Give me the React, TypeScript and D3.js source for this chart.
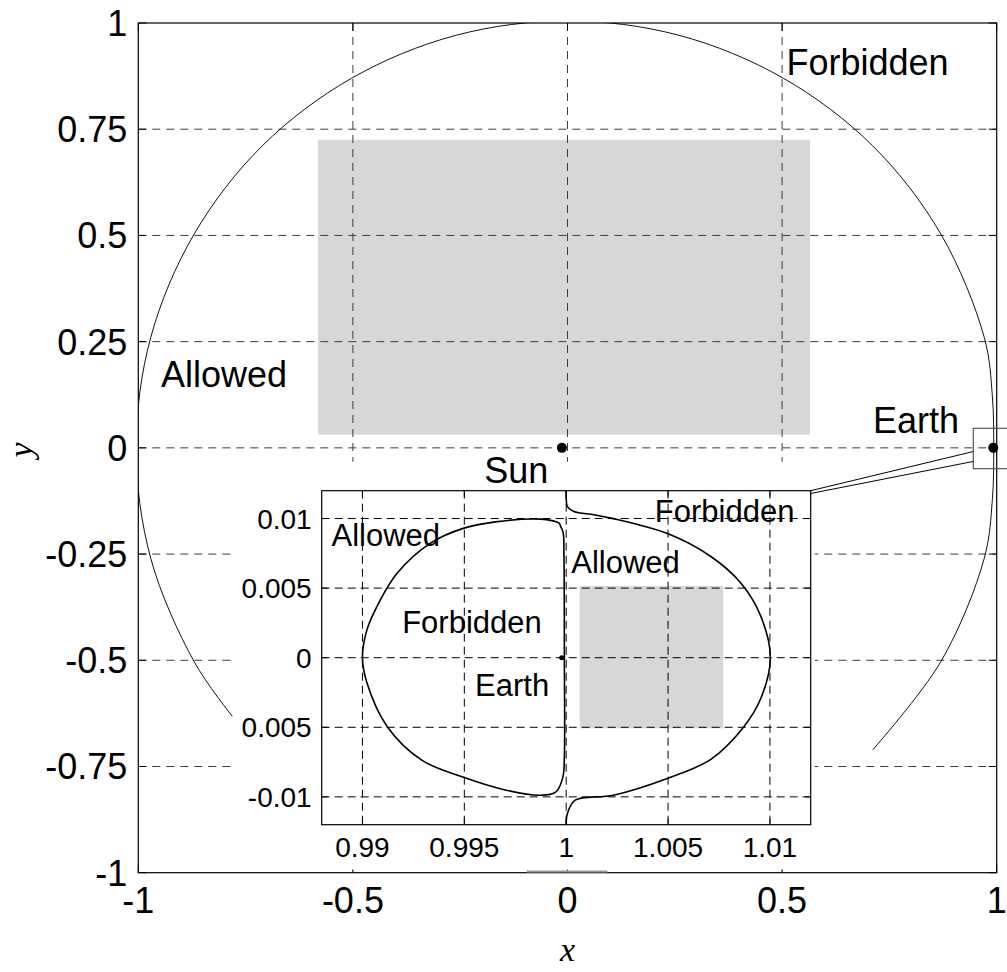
import React, { useRef, useEffect } from "react";
import * as d3 from "d3";

// main plot: outer zero-velocity curve
const outerX = [0.711, 0.87, 0.971, 0.99, 0.993, 0.99, 0.971, 0.87, 0.711, 0.503, 0.26, 0, -0.26, -0.503, -0.711, -0.87, -0.971, -1.005, -0.971, -0.87, -0.781];
const outerY = [-0.711, -0.503, -0.26, -0.12, 0, 0.12, 0.26, 0.503, 0.711, 0.87, 0.971, 1.005, 0.971, 0.87, 0.711, 0.503, 0.26, 0, -0.26, -0.503, -0.632];

// inset: closed region around Earth
const loopX = [0.99973, 0.99965, 0.9993, 0.99875, 0.99662, 0.99498, 0.99334, 0.9917, 0.99088, 0.99022, 0.99, 0.99022, 0.99122, 0.99291, 0.99489, 0.997, 0.99875, 0.9995, 0.99984, 0.99991, 0.99991, 0.99989, 0.99985, 0.99973];
const loopY = [0.00942, 0.00967, 0.00985, 0.00996, 0.00978, 0.00931, 0.00823, 0.00607, 0.00415, 0.002, 0, -0.0018, -0.00496, -0.00736, -0.00856, -0.0095, -0.00988, -0.00964, -0.00856, -0.00712, 0, 0.0073, 0.009, 0.00942];

// inset: outer boundary on the right
const rightX = [1.0, 1.00001, 1.00006, 1.00038, 1.00137, 1.00219, 1.005, 1.0071, 1.00858, 1.00956, 1.01002, 1.00956, 1.00872, 1.0071, 1.00496, 1.00232, 1.00044, 1.00006, 1.0];
const rightY = [0.012, 0.01122, 0.01086, 0.0105, 0.01027, 0.01003, 0.0089, 0.00727, 0.00535, 0.00295, 0, -0.0029, -0.00496, -0.0073, -0.00868, -0.00988, -0.01024, -0.0112, -0.012];

const mainXTicks = [-1, -0.5, 0, 0.5, 1];
const mainXLabels = ["-1", "-0.5", "0", "0.5", "1"];
const mainYTicks = [-1, -0.75, -0.5, -0.25, 0, 0.25, 0.5, 0.75, 1];
const mainYLabels = ["-1", "-0.75", "-0.5", "-0.25", "0", "0.25", "0.5", "0.75", "1"];
const insetXTicks = [0.99, 0.995, 1, 1.005, 1.01];
const insetXLabels = ["0.99", "0.995", "1", "1.005", "1.01"];
const insetYTicks = [-0.01, -0.005, 0, 0.005, 0.01];
const insetYLabels = ["-0.01", "0.005", "0", "0.005", "0.01"];

const mainShade = { x0: -0.581, x1: 0.565, y0: 0.031, y1: 0.725 };
const insetShade = { x0: 1.00066, x1: 1.00771, y0: -0.00508, y1: 0.00516 };

const mainTexts = [
  { t: "Forbidden", x: 0.51, y: 0.878 },
  { t: "Allowed", x: -0.947, y: 0.144 },
  { t: "Earth", x: 0.712, y: 0.0345 },
  { t: "Sun", x: -0.194, y: -0.082 },
];
const insetTexts = [
  { t: "Allowed", x: 0.98848, y: 0.00805 },
  { t: "Allowed", x: 1.00025, y: 0.00606 },
  { t: "Forbidden", x: 1.00435, y: 0.00977 },
  { t: "Forbidden", x: 0.99195, y: 0.0018 },
  { t: "Earth", x: 0.99553, y: -0.00275 },
];

const App: React.FC = () => {
  const svgRef = useRef<SVGSVGElement>(null);

  useEffect(() => {
    if (!svgRef.current) return;
    const svg = d3.select(svgRef.current);
    svg.selectAll("*").remove();

    const W = 1007;
    const H = 972;
    const font = "'Liberation Sans', Arial, Helvetica, sans-serif";
    const serif = "'Liberation Serif', 'Times New Roman', serif";
    svg.attr("width", W).attr("height", H);
    svg.append("rect").attr("width", W).attr("height", H).attr("fill", "#fff");

    const x = d3.scaleLinear().domain([-1, 1]).range([138.3, 996.7]);
    const y = d3.scaleLinear().domain([-1, 1]).range([872.7, 23]);

    svg.append("clipPath").attr("id", "mainClip")
      .append("rect")
      .attr("x", x(-1)).attr("y", y(1))
      .attr("width", x(1) - x(-1)).attr("height", y(-1) - y(1));

    const main = svg.append("g");

    main.append("rect")
      .attr("x", x(mainShade.x0)).attr("y", y(mainShade.y1))
      .attr("width", x(mainShade.x1) - x(mainShade.x0))
      .attr("height", y(mainShade.y0) - y(mainShade.y1))
      .attr("fill", "#d7d7d7");

    // grid
    mainXTicks.slice(1, -1).forEach((v) => {
      main.append("line")
        .attr("x1", x(v)).attr("x2", x(v)).attr("y1", y(1)).attr("y2", y(-1))
        .attr("stroke", "#3c3c3c").attr("stroke-dasharray", "8,6");
    });
    mainYTicks.slice(1, -1).forEach((v) => {
      main.append("line")
        .attr("x1", x(-1)).attr("x2", x(1)).attr("y1", y(v)).attr("y2", y(v))
        .attr("stroke", "#3c3c3c").attr("stroke-dasharray", "8,6");
    });

    const outer = outerX.map((v, i) => [v, outerY[i]] as [number, number]);
    const mainLine = d3.line<[number, number]>()
      .x((d) => x(d[0])).y((d) => y(d[1]))
      .curve(d3.curveCatmullRom);
    main.append("path")
      .datum(outer)
      .attr("clip-path", "url(#mainClip)")
      .attr("fill", "none").attr("stroke", "#111").attr("stroke-width", 1)
      .attr("d", mainLine);

    // axes box + ticks
    main.append("rect")
      .attr("x", x(-1)).attr("y", y(1))
      .attr("width", x(1) - x(-1)).attr("height", y(-1) - y(1))
      .attr("fill", "none").attr("stroke", "#000").attr("stroke-width", 1.2);
    const tl = 8;
    mainXTicks.forEach((v) => {
      main.append("line").attr("x1", x(v)).attr("x2", x(v)).attr("y1", y(-1)).attr("y2", y(-1) - tl).attr("stroke", "#000");
      main.append("line").attr("x1", x(v)).attr("x2", x(v)).attr("y1", y(1)).attr("y2", y(1) + tl).attr("stroke", "#000");
    });
    mainYTicks.forEach((v) => {
      main.append("line").attr("x1", x(-1)).attr("x2", x(-1) + tl).attr("y1", y(v)).attr("y2", y(v)).attr("stroke", "#000");
      main.append("line").attr("x1", x(1)).attr("x2", x(1) - tl).attr("y1", y(v)).attr("y2", y(v)).attr("stroke", "#000");
    });

    main.selectAll(".xt").data(mainXTicks).enter().append("text")
      .attr("x", (d) => x(d)).attr("y", y(-1) + 40.6)
      .attr("text-anchor", "middle")
      .attr("font-family", font).attr("font-size", 36)
      .text((d, i) => mainXLabels[i]);
    main.selectAll(".yt").data(mainYTicks).enter().append("text")
      .attr("x", x(-1) - 11).attr("y", (d) => y(d)).attr("dy", "0.36em")
      .attr("text-anchor", "end")
      .attr("font-family", font).attr("font-size", 36)
      .text((d, i) => mainYLabels[i]);

    // axis titles
    svg.append("text")
      .attr("x", x(0)).attr("y", 961)
      .attr("text-anchor", "middle")
      .attr("font-family", serif)
      .attr("font-style", "italic").attr("font-size", 34)
      .text("x");
    svg.append("text")
      .attr("transform", `translate(32, ${y(0) + 2}) rotate(-90)`)
      .attr("text-anchor", "middle")
      .attr("font-family", serif)
      .attr("font-style", "italic").attr("font-size", 34)
      .text("y");

    // bodies
    main.append("circle").attr("cx", x(-0.013)).attr("cy", y(0)).attr("r", 5).attr("fill", "#000");
    main.append("circle").attr("cx", x(0.992)).attr("cy", y(0)).attr("r", 5).attr("fill", "#000");

    // zoom box around Earth
    svg.append("rect")
      .attr("x", x(0.9455)).attr("y", y(0.046))
      .attr("width", x(1.06) - x(0.9455)).attr("height", y(-0.049) - y(0.046))
      .attr("fill", "none").attr("stroke", "#555").attr("stroke-width", 1.2);

    // ---- inset ----
    const xi = d3.scaleLinear().domain([0.988, 1.012]).range([321.7, 810.7]);
    const yi = d3.scaleLinear().domain([-0.012, 0.012]).range([824.7, 490.7]);

    const inset = svg.append("g");
    inset.append("rect")
      .attr("x", xi(0.988) - 86).attr("y", yi(0.012) - 29)
      .attr("width", xi(1.012) - xi(0.988) + 90)
      .attr("height", yi(-0.012) - yi(0.012) + 74)
      .attr("fill", "#fff");

    inset.append("rect")
      .attr("x", xi(insetShade.x0)).attr("y", yi(insetShade.y1))
      .attr("width", xi(insetShade.x1) - xi(insetShade.x0))
      .attr("height", yi(insetShade.y0) - yi(insetShade.y1))
      .attr("fill", "#d7d7d7");

    insetXTicks.forEach((v) => {
      inset.append("line")
        .attr("x1", xi(v)).attr("x2", xi(v)).attr("y1", yi(0.012)).attr("y2", yi(-0.012))
        .attr("stroke", "#000").attr("stroke-dasharray", "8,5");
    });
    insetYTicks.forEach((v) => {
      inset.append("line")
        .attr("x1", xi(0.988)).attr("x2", xi(1.012)).attr("y1", yi(v)).attr("y2", yi(v))
        .attr("stroke", "#000").attr("stroke-dasharray", "8,5");
    });

    const insetLine = d3.line<[number, number]>()
      .x((d) => xi(d[0])).y((d) => yi(d[1]))
      .curve(d3.curveCatmullRom);
    const loop = loopX.map((v, i) => [v, loopY[i]] as [number, number]);
    const right = rightX.map((v, i) => [v, rightY[i]] as [number, number]);
    [loop, right].forEach((pts) => {
      inset.append("path")
        .datum(pts)
        .attr("fill", "none").attr("stroke", "#000").attr("stroke-width", 1.6)
        .attr("d", insetLine);
    });

    inset.append("circle").attr("cx", xi(0.99978)).attr("cy", yi(0)).attr("r", 2.5).attr("fill", "#000");

    inset.append("rect")
      .attr("x", xi(0.988)).attr("y", yi(0.012))
      .attr("width", xi(1.012) - xi(0.988)).attr("height", yi(-0.012) - yi(0.012))
      .attr("fill", "none").attr("stroke", "#000").attr("stroke-width", 1.2);
    const ti = 6;
    insetXTicks.forEach((v) => {
      inset.append("line").attr("x1", xi(v)).attr("x2", xi(v)).attr("y1", yi(-0.012)).attr("y2", yi(-0.012) - ti).attr("stroke", "#000");
      inset.append("line").attr("x1", xi(v)).attr("x2", xi(v)).attr("y1", yi(0.012)).attr("y2", yi(0.012) + ti).attr("stroke", "#000");
    });
    insetYTicks.forEach((v) => {
      inset.append("line").attr("x1", xi(0.988)).attr("x2", xi(0.988) + ti).attr("y1", yi(v)).attr("y2", yi(v)).attr("stroke", "#000");
      inset.append("line").attr("x1", xi(1.012)).attr("x2", xi(1.012) - ti).attr("y1", yi(v)).attr("y2", yi(v)).attr("stroke", "#000");
    });

    inset.selectAll(".ixt").data(insetXTicks).enter().append("text")
      .attr("x", (d) => xi(d)).attr("y", yi(-0.012) + 32)
      .attr("text-anchor", "middle")
      .attr("font-family", font).attr("font-size", 28)
      .text((d, i) => insetXLabels[i]);
    inset.selectAll(".iyt").data(insetYTicks).enter().append("text")
      .attr("x", xi(0.988) - 10).attr("y", (d) => yi(d)).attr("dy", "0.36em")
      .attr("text-anchor", "end")
      .attr("font-family", font).attr("font-size", 28)
      .text((d, i) => insetYLabels[i]);

    insetTexts.forEach((d) => {
      inset.append("text")
        .attr("x", xi(d.x)).attr("y", yi(d.y))
        .attr("font-family", font).attr("font-size", 31)
        .text(d.t);
    });

    // main-plot labels drawn last so "Sun" sits above the inset backdrop
    mainTexts.forEach((d) => {
      svg.append("text")
        .attr("x", x(d.x)).attr("y", y(d.y))
        .attr("font-family", font).attr("font-size", 36)
        .text(d.t);
    });

    // connectors from zoom box to inset
    svg.append("line")
      .attr("x1", x(0.9455)).attr("y1", y(-0.0087))
      .attr("x2", xi(1.012)).attr("y2", yi(0.012))
      .attr("stroke", "#000").attr("stroke-width", 1);
    svg.append("line")
      .attr("x1", x(0.9455)).attr("y1", y(-0.032))
      .attr("x2", xi(1.012)).attr("y2", yi(0.0118))
      .attr("stroke", "#000").attr("stroke-width", 1);

    // short grey stroke on the bottom axis
    svg.append("line")
      .attr("x1", x(-0.095)).attr("x2", x(0.093))
      .attr("y1", y(-0.997)).attr("y2", y(-0.997))
      .attr("stroke", "#999").attr("stroke-width", 2);

    return () => {
      svg.selectAll("*").remove();
    };
  }, []);

  return <svg ref={svgRef} style={{ position: "absolute", left: 0, top: 0, display: "block" }}></svg>;
};

export default App;
